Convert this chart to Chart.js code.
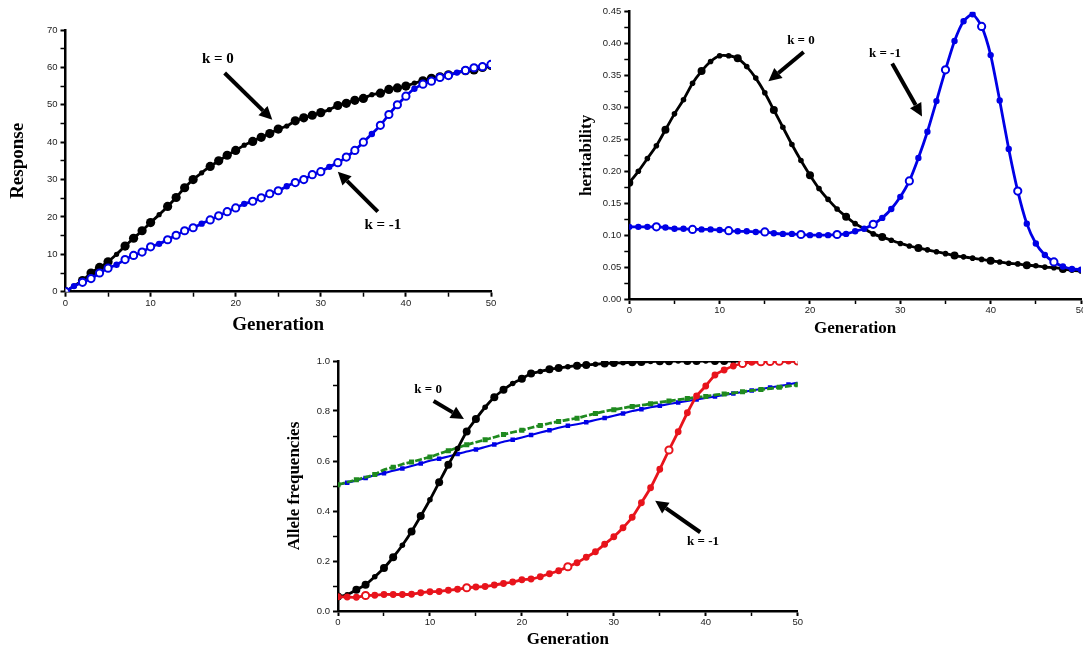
<!DOCTYPE html>
<html>
<head>
<meta charset="utf-8">
<script src="https://cdn.jsdelivr.net/npm/chart.js@4.4.1/dist/chart.umd.min.js"></script>
<style>
html, body { margin: 0; padding: 0; background: #fff; overflow: hidden; width: 1083px; height: 647px; }
.box { position: absolute; }
#b1 { left: 0; top: 0; width: 520px; height: 340px; }
#b2 { left: 560px; top: 0; width: 540px; height: 340px; }
#b3 { left: 270px; top: 330px; width: 560px; height: 330px; }
</style>
</head>
<body>
<div class="box" id="b1"><canvas id="chart1"></canvas></div>
<div class="box" id="b2"><canvas id="chart2"></canvas></div>
<div class="box" id="b3"><canvas id="chart3"></canvas></div>
<script>
const generations = [0, 1, 2, 3, 4, 5, 6, 7, 8, 9, 10, 11, 12, 13, 14, 15, 16, 17, 18, 19, 20,
    21, 22, 23, 24, 25, 26, 27, 28, 29, 30, 31, 32, 33, 34, 35, 36, 37, 38, 39, 40,
    41, 42, 43, 44, 45, 46, 47, 48, 49, 50];

// response to selection
const responseK0 = [0, 1.5, 3, 5, 6.5, 8, 10, 12.2, 14.3, 16.3, 18.5, 20.6, 22.8, 25.2, 27.8, 30, 31.8,
    33.5, 35, 36.5, 37.8, 39.2, 40.2, 41.3, 42.3, 43.5, 44.3, 45.7, 46.5, 47.2, 47.9, 48.7, 49.8,
    50.4, 51.2, 51.7, 52.7, 53.1, 54.1, 54.5, 55, 55.8, 56.4, 57.1, 57.5, 58, 58.6, 59.1, 59.3, 60, 60.5];
const responseKm1 = [0, 1.5, 2.5, 3.5, 5, 6.3, 7.2, 8.6, 9.7, 10.6, 12, 12.8, 13.9, 15.1, 16.3, 17.1, 18.2,
    19.2, 20.3, 21.4, 22.4, 23.5, 24.2, 25.1, 26.2, 27, 28.2, 29.2, 30, 31.3, 32.1, 33.4, 34.5,
    36, 37.8, 40, 42.2, 44.5, 47.4, 50, 52.3, 54.3, 55.5, 56.3, 57.3, 57.8, 58.6, 59.2, 59.9, 60.2, 60.8];

// heritability
const herK0 = [0.182, 0.2, 0.22, 0.24, 0.265, 0.29, 0.312, 0.338, 0.357, 0.372, 0.381, 0.381, 0.377,
    0.364, 0.346, 0.323, 0.296, 0.269, 0.242, 0.217, 0.194, 0.173, 0.156, 0.141, 0.129, 0.118,
    0.11, 0.102, 0.097, 0.092, 0.087, 0.083, 0.08, 0.077, 0.074, 0.071, 0.068, 0.066, 0.064,
    0.062, 0.06, 0.058, 0.056, 0.055, 0.053, 0.052, 0.05, 0.049, 0.047, 0.045, 0.044];
const herKm1 = [0.113, 0.113, 0.113, 0.113, 0.112, 0.11, 0.11, 0.109, 0.109, 0.109, 0.108, 0.107,
    0.106, 0.106, 0.105, 0.105, 0.103, 0.102, 0.102, 0.101, 0.1, 0.1, 0.1, 0.101, 0.102, 0.106,
    0.11, 0.117, 0.127, 0.141, 0.16, 0.185, 0.221, 0.262, 0.31, 0.359, 0.404, 0.435, 0.446,
    0.427, 0.382, 0.311, 0.235, 0.169, 0.118, 0.087, 0.069, 0.058, 0.051, 0.047, 0.046];

// allele frequencies
const freqK0 = [0.058, 0.065, 0.085, 0.105, 0.137, 0.172, 0.215, 0.263, 0.318, 0.38, 0.445, 0.515,
    0.585, 0.65, 0.718, 0.768, 0.815, 0.855, 0.885, 0.91, 0.929, 0.95, 0.958, 0.967, 0.972, 0.977,
    0.981, 0.984, 0.987, 0.99, 0.992, 0.993, 0.995, 0.996, 0.998, 0.999, 0.999, 1, 1, 1, 1, 1, 1,
    1, 1, 1, 1, 1, 1, 1, 1];
const freqKm1 = [0.057, 0.056, 0.055, 0.062, 0.063, 0.066, 0.066, 0.066, 0.067, 0.073, 0.077, 0.078,
    0.083, 0.087, 0.093, 0.096, 0.098, 0.104, 0.11, 0.116, 0.125, 0.128, 0.137, 0.149, 0.161,
    0.177, 0.193, 0.215, 0.237, 0.267, 0.297, 0.333, 0.375, 0.433, 0.493, 0.567, 0.644, 0.717,
    0.793, 0.86, 0.9, 0.944, 0.964, 0.98, 0.99, 0.995, 0.997, 0.998, 0.999, 1, 1];
const freqGreen = [0.505, 0.515, 0.525, 0.535, 0.546, 0.565, 0.575, 0.587, 0.596, 0.606, 0.616, 0.629,
    0.641, 0.653, 0.665, 0.675, 0.685, 0.695, 0.706, 0.715, 0.723, 0.733, 0.742, 0.751, 0.758,
    0.765, 0.771, 0.781, 0.79, 0.799, 0.805, 0.812, 0.818, 0.823, 0.829, 0.835, 0.84, 0.845, 0.85,
    0.855, 0.858, 0.864, 0.868, 0.872, 0.877, 0.882, 0.886, 0.89, 0.895, 0.9, 0.905];
const freqBlue = [0.505, 0.513, 0.522, 0.532, 0.543, 0.551, 0.561, 0.57, 0.58, 0.59, 0.601, 0.609,
    0.618, 0.628, 0.638, 0.646, 0.656, 0.666, 0.677, 0.685, 0.694, 0.704, 0.714, 0.723, 0.733,
    0.741, 0.747, 0.755, 0.764, 0.772, 0.781, 0.79, 0.8, 0.807, 0.815, 0.821, 0.828, 0.834, 0.84,
    0.846, 0.852, 0.858, 0.864, 0.87, 0.876, 0.882, 0.888, 0.894, 0.9, 0.906, 0.914];

// annotation arrows [fromX, fromY, toX, toY] and labels [text, x, y], in data units
const responseArrows = [[18.7, 58.5, 24.3, 46.0], [36.7, 21.4, 32.0, 32.1]];
const responseLabels = [['k = 0', 17.9, 62.3], ['k = -1', 37.3, 17.8]];
const herArrows = [[19.3, 0.387, 15.4, 0.341], [29.1, 0.369, 32.4, 0.286]];
const herLabels = [['k = 0', 19.0, 0.405], ['k = -1', 28.3, 0.385]];
const freqArrows = [[10.4, 0.84, 13.7, 0.768], [39.4, 0.315, 34.5, 0.441]];
const freqLabels = [['k = 0', 9.8, 0.884], ['k = -1', 39.7, 0.277]];

const serif = '"Liberation Serif", "Times New Roman", serif';
const sans = '"Liberation Sans", Arial, sans-serif';
const BLUE = '#0000e6';
const RED = '#e8141c';
const GREEN = '#1f8a1f';

function pts(ys) {
    return ys.map((y, i) => ({ x: generations[i], y: y }));
}

function isMult(v, step) {
    return Math.abs(v / step - Math.round(v / step)) < 1e-6;
}

const arrowPlugin = {
    id: 'arrows',
    afterDatasetsDraw(chart, args, opts) {
        const ctx = chart.ctx, xs = chart.scales.x, ys = chart.scales.y;
        ctx.save();
        ctx.fillStyle = '#000';
        ctx.strokeStyle = '#000';
        (opts.arrows || []).forEach(a => {
            const x1 = xs.getPixelForValue(a[0]), y1 = ys.getPixelForValue(a[1]);
            const x2 = xs.getPixelForValue(a[2]), y2 = ys.getPixelForValue(a[3]);
            const ang = Math.atan2(y2 - y1, x2 - x1);
            const head = 13, half = 6.5;
            const bx = x2 - head * Math.cos(ang), by = y2 - head * Math.sin(ang);
            ctx.lineWidth = 4;
            ctx.beginPath();
            ctx.moveTo(x1, y1);
            ctx.lineTo(bx, by);
            ctx.stroke();
            ctx.beginPath();
            ctx.moveTo(x2, y2);
            ctx.lineTo(bx + half * Math.sin(ang), by - half * Math.cos(ang));
            ctx.lineTo(bx - half * Math.sin(ang), by + half * Math.cos(ang));
            ctx.closePath();
            ctx.fill();
        });
        ctx.font = 'bold ' + opts.fontSize + 'px ' + serif;
        ctx.textAlign = 'center';
        ctx.textBaseline = 'middle';
        (opts.labels || []).forEach(l => {
            ctx.fillText(l[0], xs.getPixelForValue(l[1]), ys.getPixelForValue(l[2]));
        });
        ctx.restore();
    }
};

function makeOptions(o) {
    const tickFont = { family: sans, size: 9.5 };
    return {
        responsive: true,
        maintainAspectRatio: false,
        animation: false,
        layout: { padding: { top: o.padTop, right: o.padRight, left: 0, bottom: 0 } },
        elements: { line: { tension: 0.2, borderJoinStyle: 'round' } },
        plugins: {
            legend: { display: false },
            tooltip: { enabled: false },
            arrows: { arrows: o.arrows, labels: o.labels, fontSize: o.labelSize },
        },
        scales: {
            x: {
                type: 'linear',
                min: 0,
                max: 50,
                afterFit: s => { s.height = o.xHeight; },
                ticks: {
                    stepSize: 5,
                    autoSkip: false,
                    maxRotation: 0,
                    padding: 1,
                    color: '#222',
                    font: tickFont,
                    callback: v => isMult(v, 10) ? String(v) : '',
                },
                grid: {
                    drawOnChartArea: false,
                    tickLength: 5,
                    tickColor: '#000',
                    tickWidth: c => (c.tick && isMult(c.tick.value, 10)) ? 2 : 1.5,
                },
                border: { display: true, color: '#000', width: 2.5 },
                title: {
                    display: true,
                    text: 'Generation',
                    color: '#000',
                    font: { family: serif, size: o.titleSize, weight: 'bold', lineHeight: 1.2 },
                    padding: { top: 0, bottom: o.xTitlePad },
                },
            },
            y: {
                type: 'linear',
                min: 0,
                max: o.yMax,
                afterFit: s => { s.width = o.yWidth; },
                ticks: {
                    stepSize: o.yStep,
                    autoSkip: false,
                    padding: 3,
                    color: '#222',
                    font: tickFont,
                    callback: v => isMult(v, o.yLabelStep) ? v.toFixed(o.yDigits) : '',
                },
                grid: {
                    drawOnChartArea: false,
                    tickLength: 5,
                    tickColor: '#000',
                    tickWidth: c => (c.tick && isMult(c.tick.value, o.yLabelStep)) ? 2 : 1.5,
                },
                border: { display: true, color: '#000', width: 2.5 },
                title: {
                    display: true,
                    text: o.yTitle,
                    color: '#000',
                    font: { family: serif, size: o.titleSize, weight: 'bold', lineHeight: 1.2 },
                    padding: { top: o.yTitlePad, bottom: 0 },
                },
            },
        },
    };
}

new Chart(document.getElementById('chart1'), {
    type: 'line',
    data: {
        datasets: [
            {
                label: 'k = -1',
                data: pts(responseKm1),
                borderColor: BLUE,
                borderWidth: 2.8,
                pointBorderColor: BLUE,
                pointBorderWidth: 2,
                pointBackgroundColor: c => c.dataIndex % 5 === 1 ? BLUE : '#fff',
                pointRadius: c => c.dataIndex % 5 === 1 ? 2.2 : 3.6,
            },
            {
                label: 'k = 0',
                data: pts(responseK0),
                borderColor: '#000',
                borderWidth: 2.8,
                pointBorderWidth: 0,
                pointBackgroundColor: '#000',
                pointRadius: c => c.dataIndex % 5 === 1 ? 2.6 : 4.6,
            },
        ],
    },
    options: makeOptions({
        padTop: 30, padRight: 29, xHeight: 48.3, yWidth: 65.5,
        yMax: 70, yStep: 5, yLabelStep: 10, yDigits: 0,
        yTitle: 'Response', titleSize: 19, xTitlePad: 3.6, yTitlePad: 6.6,
        arrows: responseArrows, labels: responseLabels, labelSize: 15,
    }),
    plugins: [arrowPlugin],
});

new Chart(document.getElementById('chart2'), {
    type: 'line',
    data: {
        datasets: [
            {
                label: 'k = -1',
                data: pts(herKm1),
                borderColor: BLUE,
                borderWidth: 2.8,
                pointBorderColor: BLUE,
                pointBorderWidth: 2,
                pointBackgroundColor: c => c.dataIndex % 4 === 3 ? '#fff' : BLUE,
                pointRadius: c => c.dataIndex % 4 === 3 ? 3.6 : 2.2,
            },
            {
                label: 'k = 0',
                data: pts(herK0),
                borderColor: '#000',
                borderWidth: 2.8,
                pointBorderWidth: 0,
                pointBackgroundColor: '#000',
                pointRadius: c => c.dataIndex % 4 === 0 ? 4 : 2.8,
            },
        ],
    },
    options: makeOptions({
        padTop: 11.7, padRight: 19, xHeight: 41, yWidth: 69.3,
        yMax: 0.45, yStep: 0.025, yLabelStep: 0.05, yDigits: 2,
        yTitle: 'heritability', titleSize: 17, xTitlePad: 1.5, yTitlePad: 16.5,
        arrows: herArrows, labels: herLabels, labelSize: 13,
    }),
    plugins: [arrowPlugin],
});

new Chart(document.getElementById('chart3'), {
    type: 'line',
    data: {
        datasets: [
            {
                label: 'k = -1',
                data: pts(freqKm1),
                borderColor: RED,
                borderWidth: 2.8,
                pointBorderColor: RED,
                pointBorderWidth: 2,
                pointBackgroundColor: c => c.dataIndex % 11 === 3 || c.dataIndex > 43 && c.dataIndex % 2 === 0 ? '#fff' : RED,
                pointRadius: c => c.dataIndex % 11 === 3 || c.dataIndex > 43 && c.dataIndex % 2 === 0 ? 3.6 : 2.4,
            },
            {
                label: 'k = 0',
                data: pts(freqK0),
                borderColor: '#000',
                borderWidth: 2.8,
                pointBorderWidth: 0,
                pointBackgroundColor: '#000',
                pointRadius: c => c.dataIndex % 3 === 1 ? 2.8 : 4,
            },
            {
                label: 'green',
                data: pts(freqGreen),
                borderColor: GREEN,
                borderWidth: 2.8,
                borderDash: [7, 2],
                pointStyle: 'rect',
                pointBorderWidth: 0,
                pointBackgroundColor: GREEN,
                pointRadius: c => c.dataIndex % 2 === 0 ? 3.6 : 0,
            },
            {
                label: 'blue',
                data: pts(freqBlue),
                borderColor: BLUE,
                borderWidth: 2.2,
                pointStyle: 'rect',
                pointBorderWidth: 0,
                pointBackgroundColor: BLUE,
                pointRadius: c => c.dataIndex % 2 === 1 ? 3.2 : 0,
            },
        ],
    },
    options: makeOptions({
        padTop: 31, padRight: 32.3, xHeight: 49, yWidth: 68,
        yMax: 1.0, yStep: 0.1, yLabelStep: 0.2, yDigits: 1,
        yTitle: 'Allele frequencies', titleSize: 17, xTitlePad: 9.8, yTitlePad: 14.8,
        arrows: freqArrows, labels: freqLabels, labelSize: 13,
    }),
    plugins: [arrowPlugin],
});
</script>
</body>
</html>
